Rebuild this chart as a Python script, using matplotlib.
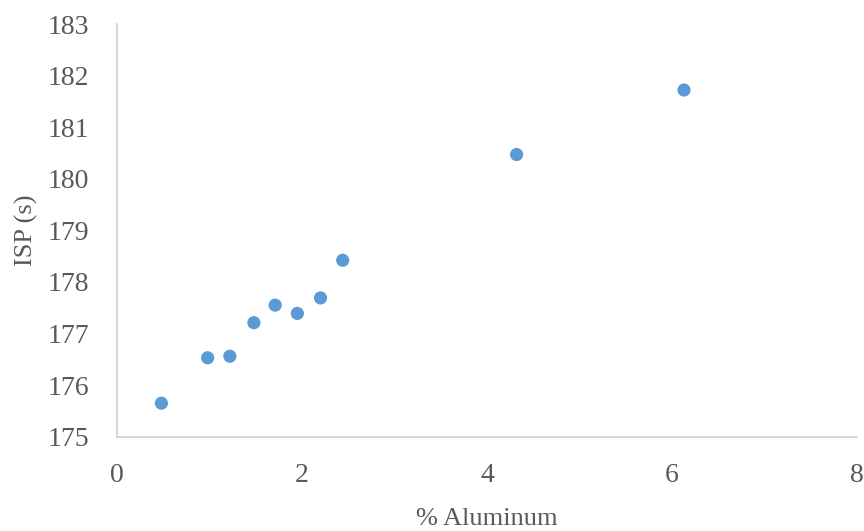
import matplotlib.pyplot as plt

aluminum = [0.48, 0.98, 1.22, 1.48, 1.71, 1.95, 2.20, 2.44, 4.32, 6.13]
isp = [175.65, 176.53, 176.56, 177.21, 177.55, 177.39, 177.69, 178.42, 180.47, 181.72]

plt.rcParams["font.family"] = ["Liberation Serif", "DejaVu Serif"]
TEXT = "#595959"

fig = plt.figure(figsize=(8.64, 5.31), dpi=100)
ax = fig.add_axes([0.1354, 0.1776, 0.8565, 0.7772])

ax.scatter(aluminum, isp, s=90, color="#5B9BD5", edgecolors="none", zorder=3)

ax.set_xlim(0, 8)
ax.set_ylim(175, 183)
ax.set_xticks([0, 2, 4, 6, 8])
ax.set_yticks(range(175, 184))

for side in ["top", "right"]:
    ax.spines[side].set_visible(False)
for side in ["left", "bottom"]:
    ax.spines[side].set_color("#D0D0D0")
    ax.spines[side].set_linewidth(1.2)

ax.tick_params(axis="both", length=0, labelsize=20, colors=TEXT)
ax.tick_params(axis="x", pad=19)
ax.tick_params(axis="y", pad=20)

ax.set_xlabel("% Aluminum", fontsize=19, color=TEXT, labelpad=14)
ax.set_ylabel("ISP (s)", fontsize=19, color=TEXT, labelpad=7)

fig.savefig("out.png", dpi=100)
